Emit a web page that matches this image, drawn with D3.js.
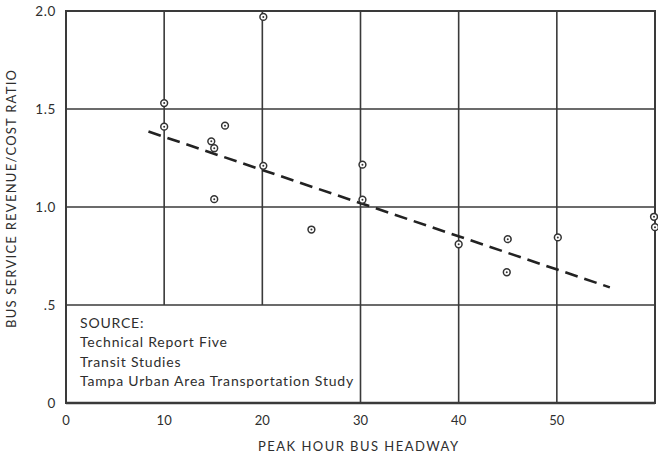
<!DOCTYPE html>
<html><head><meta charset="utf-8">
<script src="https://cdn.jsdelivr.net/npm/d3@7"></script>
<style>body{margin:0;background:#fff}svg{display:block}text{font-family:Lato,"DejaVu Sans",sans-serif;fill:#2e2e2e}</style>
</head><body><svg id="c" width="658" height="463"></svg>
<script>
const headway = [10, 10, 16.2, 14.8, 15.1, 15.1, 20.1, 20.1, 25, 30.2, 30.2, 40, 45, 44.9, 50.1, 59.9, 60];
const ratio   = [1.53, 1.41, 1.415, 1.335, 1.30, 1.04, 1.97, 1.21, 0.885, 1.216, 1.037, 0.81, 0.836, 0.667, 0.845, 0.95, 0.897];
const trendX = [8.4, 55.4];
const trendY = [1.385, 0.59];
const xTicks = [0, 10, 20, 30, 40, 50];
const yTicks = [0, 0.5, 1.0, 1.5, 2.0];
const yTickLabels = ["0", ".5", "1.0", "1.5", "2.0"];
const sourceLines = ["SOURCE:", "Technical Report Five", "Transit Studies", "Tampa Urban Area Transportation Study"];

const svg = d3.select("#c");
const x = d3.scaleLinear().domain([0, 60]).range([66, 655]);
const y = d3.scaleLinear().domain([0, 2]).range([403, 11]);
const ink = "#3a3a3a";

// grid
const g = svg.append("g");
xTicks.filter(v => v > 0).forEach(v => {
  g.append("line").attr("x1", x(v)).attr("x2", x(v))
    .attr("y1", y(2)).attr("y2", v < 30 ? y(0.5) : y(0))
    .attr("stroke", ink).attr("stroke-width", 1.6);
});
yTicks.filter(v => v > 0 && v < 2).forEach(v => {
  g.append("line").attr("x1", x(0)).attr("x2", x(60))
    .attr("y1", y(v)).attr("y2", y(v))
    .attr("stroke", ink).attr("stroke-width", 1.6);
});
// frame
g.append("rect").attr("x", x(0)).attr("y", y(2)).attr("width", x(60) - x(0)).attr("height", y(0) - y(2))
  .attr("fill", "none").attr("stroke", ink).attr("stroke-width", 2);
g.append("line").attr("x1", x(0)).attr("x2", x(60)).attr("y1", y(0)).attr("y2", y(0))
  .attr("stroke", ink).attr("stroke-width", 2.6);

// axes tick labels
svg.append("g").selectAll("text").data(xTicks).join("text")
  .attr("x", d => x(d)).attr("y", 425).attr("text-anchor", "middle")
  .attr("font-size", 13).text(d => d);
svg.append("g").selectAll("text").data(yTicks).join("text")
  .attr("x", 56).attr("y", d => y(d) + 5).attr("text-anchor", "end")
  .attr("font-size", 13.5).attr("letter-spacing", 0.6).text((d, i) => yTickLabels[i]);

// axis titles
svg.append("text").attr("x", 258).attr("y", 451)
  .attr("font-size", 13).attr("textLength", 200).attr("lengthAdjust", "spacing")
  .text("PEAK HOUR BUS HEADWAY");
svg.append("text").attr("transform", `translate(16,328) rotate(-90)`)
  .attr("font-size", 13).attr("textLength", 258).attr("lengthAdjust", "spacing")
  .text("BUS SERVICE REVENUE/COST RATIO");

// source
svg.append("g").selectAll("text").data(sourceLines).join("text")
  .attr("x", 80).attr("y", (d, i) => 328 + i * 19.3)
  .attr("font-size", 14).attr("letter-spacing", 0.8).text(d => d);

// trend line
svg.append("line")
  .attr("x1", x(trendX[0])).attr("y1", y(trendY[0]))
  .attr("x2", x(trendX[1])).attr("y2", y(trendY[1]))
  .attr("stroke", "#222").attr("stroke-width", 2.6).attr("stroke-dasharray", "13,7");

// points
const pts = headway.map((h, i) => [h, ratio[i]]);
const pg = svg.append("g");
pg.selectAll("circle.o").data(pts).join("circle").attr("class", "o")
  .attr("cx", d => x(d[0])).attr("cy", d => y(d[1])).attr("r", 3.4)
  .attr("fill", "#fff").attr("stroke", "#333").attr("stroke-width", 1.5);
pg.selectAll("circle.i").data(pts).join("circle").attr("class", "i")
  .attr("cx", d => x(d[0])).attr("cy", d => y(d[1])).attr("r", 1)
  .attr("fill", "#333");
</script></body></html>
